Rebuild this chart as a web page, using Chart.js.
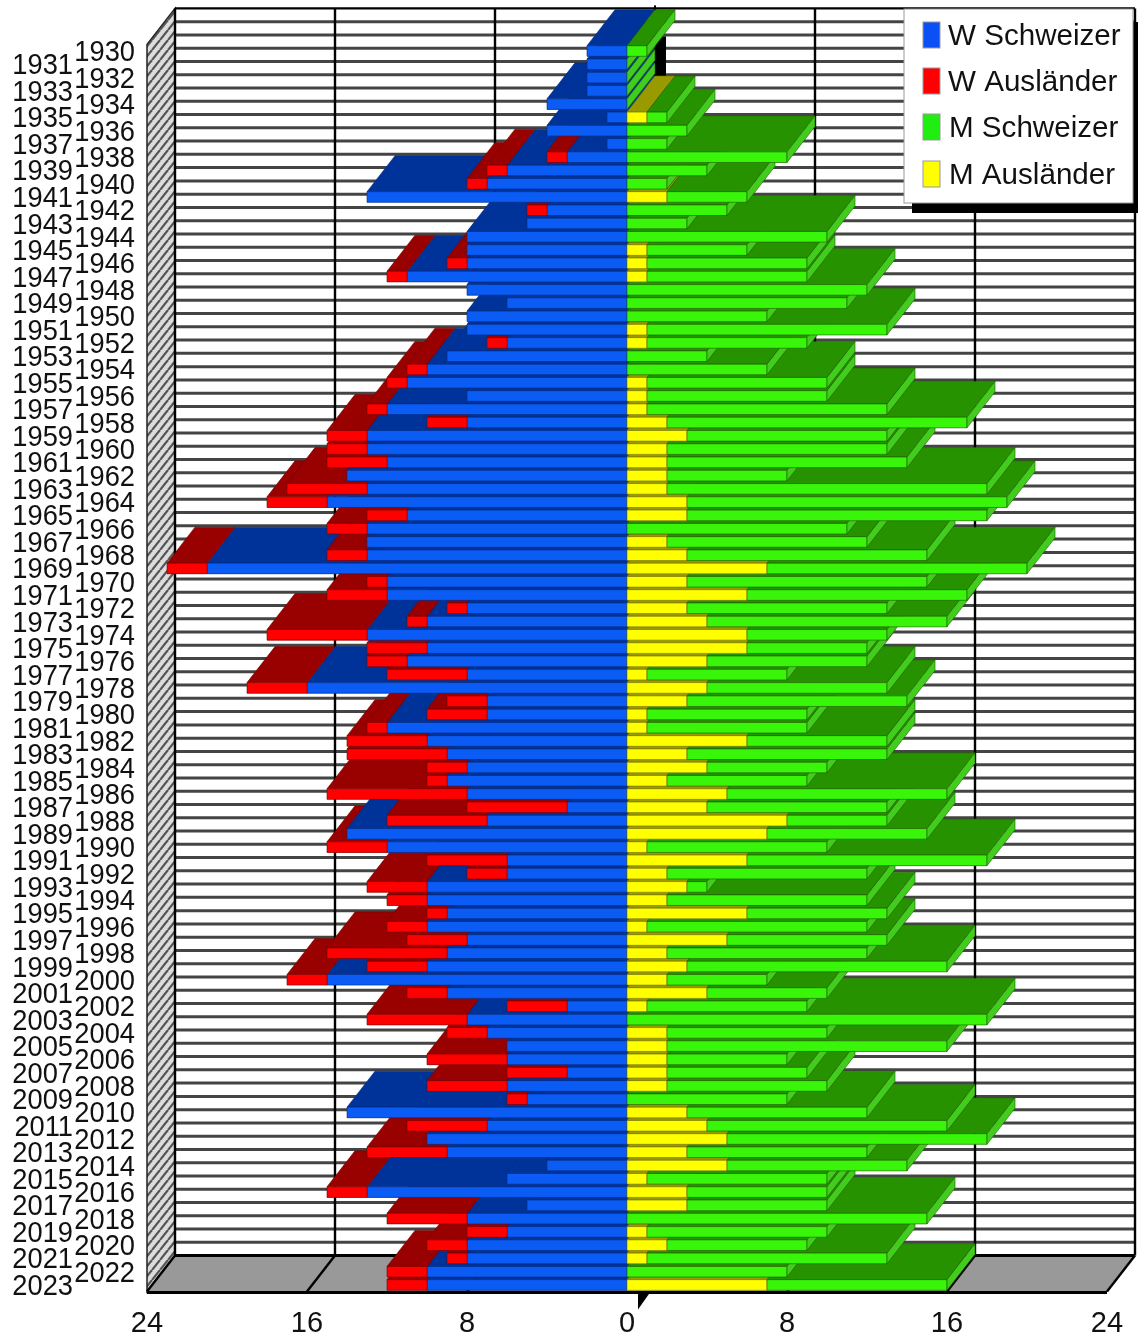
<!DOCTYPE html>
<html>
<head>
<meta charset="utf-8">
<title>Bevölkerungspyramide</title>
<script src="https://cdn.jsdelivr.net/npm/chart.js@4/dist/chart.umd.min.js"></script>
<style>
  html, body { margin: 0; padding: 0; background: #fff; }
  canvas { display: block; }
</style>
</head>
<body>
<canvas id="pyramid" width="1139" height="1338"></canvas>
<script>
const years = [];
for (let y = 1930; y <= 2023; y++) years.push(String(y));

const wSchweizer = [
  2,2,2,2,4,1,4,1,3,6,
  7,13,4,5,8,8,8,11,8,6,
  8,8,6,9,10,11,8,12,8,13,
  13,12,14,13,15,11,13,13,13,21,
  12,12,8,10,13,10,11,8,16,7,
  7,12,10,9,8,9,8,3,7,14,
  12,6,6,10,10,9,10,8,9,10,
  15,9,3,8,7,6,6,3,6,5,
  14,7,10,9,4,6,13,5,8,6,
  8,8,10,10
];
const wAuslaender = [
  0,0,0,0,0,0,0,0,1,1,
  1,0,1,0,0,0,1,1,0,0,
  0,0,1,0,1,1,0,1,2,2,
  2,3,0,4,3,2,2,0,2,2,
  1,3,1,1,5,3,2,4,3,2,
  3,1,4,5,2,1,7,5,5,0,
  3,4,2,3,2,1,2,3,6,3,
  2,2,3,5,2,0,4,3,4,1,
  0,4,0,4,0,0,2,0,4,2,
  2,1,2,2
];
const mAuslaender = [
  0,0,0,0,0,1,0,0,0,0,
  0,2,0,0,0,1,1,1,0,0,
  0,1,1,0,0,1,1,1,2,3,
  2,2,2,2,3,3,0,2,3,7,
  3,6,3,4,6,6,4,1,4,3,
  1,1,6,3,4,2,5,4,8,7,
  1,6,2,3,2,6,1,5,2,3,
  2,4,1,0,2,2,2,2,2,0,
  3,4,5,3,5,1,3,3,0,1,
  2,1,0,7
];
const mSchweizer = [
  1,0,0,0,0,1,3,2,8,4,
  2,4,5,3,10,5,8,8,12,11,
  7,12,8,4,7,9,9,12,15,10,
  11,12,6,16,16,15,11,10,12,13,
  12,11,10,12,7,6,8,7,9,11,
  8,8,7,10,6,7,11,9,5,8,
  9,12,10,1,10,7,11,8,10,13,
  5,6,8,18,8,14,6,7,8,8,
  9,12,13,9,9,9,7,7,15,9,
  7,12,8,9
];

const FONT = '"Liberation Sans", Arial, sans-serif';
const DEPTH_X = 28;
const DEPTH_Y = -36;

// front, top, edge
const colBlue = ['#0a5cf5', '#003399', '#002a80'];
const colRed = ['#ff0000', '#990000', '#770000'];
const colGreen = ['#38f50a', '#279200', '#1c5c00'];
const colYellow = ['#ffff00', '#999900', '#777700'];
const greenSide = '#42cc1e';

function poly(ctx, pts, fill, stroke, lw) {
  ctx.beginPath();
  pts.forEach((p, i) => i ? ctx.lineTo(p[0], p[1]) : ctx.moveTo(p[0], p[1]));
  ctx.closePath();
  if (fill) { ctx.fillStyle = fill; ctx.fill(); }
  if (stroke) { ctx.strokeStyle = stroke; ctx.lineWidth = lw || 1; ctx.stroke(); }
}

function hatch(ctx) {
  const c = document.createElement('canvas');
  c.width = 8; c.height = 10;
  const g = c.getContext('2d');
  g.fillStyle = '#dcdcdc';
  g.fillRect(0, 0, 8, 10);
  g.strokeStyle = '#555';
  g.lineWidth = 2.2;
  [[-8, 10], [0, 10], [8, 10]].forEach(o => {
    g.beginPath();
    g.moveTo(o[0], o[1]);
    g.lineTo(o[0] + 8, o[1] - 10);
    g.stroke();
  });
  return ctx.createPattern(c, 'repeat');
}

// Back wall, side wall, floor and the black centre post
const wallsPlugin = {
  id: 'walls',
  beforeDatasetsDraw(chart) {
    const ctx = chart.ctx, xs = chart.scales.x, ys = chart.scales.y, a = chart.chartArea;
    const band = (a.bottom - a.top) / years.length;
    const left = a.left, right = a.right;
    const backTop = a.top + DEPTH_Y, backBottom = a.bottom + DEPTH_Y;
    ctx.save();

    // side wall
    poly(ctx, [[left, a.top], [left + DEPTH_X, backTop], [left + DEPTH_X, backBottom], [left, a.bottom]], hatch(ctx), '#222', 1.5);

    // horizontal lines on the back wall, one per year
    ctx.strokeStyle = '#444';
    ctx.lineWidth = 3;
    for (let i = 1; i < years.length; i++) {
      const y = ys.getPixelForValue(i) - band / 2 + DEPTH_Y;
      ctx.beginPath();
      ctx.moveTo(left + DEPTH_X, y);
      ctx.lineTo(right + DEPTH_X, y);
      ctx.stroke();
    }

    // vertical lines on the back wall
    ctx.strokeStyle = '#000';
    ctx.lineWidth = 2.4;
    [-24, -16, -8, 8, 16, 24].forEach(v => {
      const x = xs.getPixelForValue(v) + DEPTH_X;
      ctx.beginPath();
      ctx.moveTo(x, backTop);
      ctx.lineTo(x, backBottom);
      ctx.stroke();
    });
    ctx.beginPath();
    ctx.moveTo(left + DEPTH_X, backTop);
    ctx.lineTo(right + DEPTH_X, backTop);
    ctx.stroke();

    // floor
    poly(ctx, [[left, a.bottom], [left + DEPTH_X, backBottom], [right + DEPTH_X, backBottom], [right, a.bottom]], '#999');
    ctx.lineWidth = 2.4;
    [-24, -16, -8, 8, 16, 24].forEach(v => {
      const x = xs.getPixelForValue(v);
      ctx.beginPath();
      ctx.moveTo(x, a.bottom);
      ctx.lineTo(x + DEPTH_X, backBottom);
      ctx.stroke();
    });
    ctx.lineWidth = 3;
    ctx.beginPath();
    ctx.moveTo(left + DEPTH_X, backBottom);
    ctx.lineTo(right + DEPTH_X, backBottom);
    ctx.moveTo(left, a.bottom + 1);
    ctx.lineTo(right, a.bottom + 1);
    ctx.stroke();

    // centre post
    const x0 = xs.getPixelForValue(0);
    ctx.fillStyle = '#000';
    ctx.fillRect(x0 + DEPTH_X - 1, backTop - 3, 2, 6);
    ctx.fillRect(x0 + DEPTH_X - 1, a.top - 8, 12, backBottom - a.top + 8);
    poly(ctx, [[x0 + 11, a.bottom + 1], [x0 + 23, a.bottom + 1], [x0 + 11, a.bottom + 18]], '#000');
    ctx.restore();
  }
};

// Turns each bar into a 3d block. Rows go bottom to top so that upper rows cover the lower tops.
const blocksPlugin = {
  id: 'blocks',
  afterDatasetsDraw(chart) {
    const ctx = chart.ctx, xs = chart.scales.x;
    const metas = chart.data.datasets.map((d, i) => chart.getDatasetMeta(i));
    const cols = [colBlue, colRed, colYellow, colGreen];
    ctx.save();
    for (let r = years.length - 1; r >= 0; r--) {
      metas.forEach((m, k) => {
        const b = m.data[r];
        const x1 = Math.min(b.x, b.base), x2 = Math.max(b.x, b.base);
        if (x2 - x1 < 0.5) return;
        const top = b.y - b.height / 2;
        poly(ctx, [[x1, top], [x1 + DEPTH_X, top + DEPTH_Y], [x2 + DEPTH_X, top + DEPTH_Y], [x2, top]], cols[k][1], cols[k][2], 0.6);
      });
      metas.forEach((m, k) => {
        const b = m.data[r];
        const x1 = Math.min(b.x, b.base), x2 = Math.max(b.x, b.base);
        if (x2 - x1 < 0.5) return;
        const top = b.y - b.height / 2, bot = b.y + b.height / 2;
        poly(ctx, [[x1, top], [x2, top], [x2, bot], [x1, bot]], cols[k][0], cols[k][2], 0.6);
      });
      // end face of the men's side, also there when the row is empty
      const e = metas[3].data[r];
      const ex = xs.getPixelForValue(mAuslaender[r] + mSchweizer[r]);
      const top = e.y - e.height / 2, bot = e.y + e.height / 2;
      poly(ctx, [[ex, top], [ex + DEPTH_X, top + DEPTH_Y], [ex + DEPTH_X, bot + DEPTH_Y], [ex, bot]], greenSide, colGreen[2], 0.6);
    }
    ctx.restore();
  }
};

const legendRows = [
  { label: 'W Schweizer', color: '#0a50f5', y: 35, tx: 948 },
  { label: 'W Ausländer', color: '#ff0000', y: 81, tx: 948 },
  { label: 'M Schweizer', color: '#1fee10', y: 127, tx: 949 },
  { label: 'M Ausländer', color: '#ffff00', y: 174, tx: 949 }
];

// Year labels in two staggered columns, plus the boxed legend
const labelsPlugin = {
  id: 'labels',
  afterDraw(chart) {
    const ctx = chart.ctx, ys = chart.scales.y;
    ctx.save();
    ctx.fillStyle = '#111';
    ctx.font = '29px ' + FONT;
    ctx.textAlign = 'right';
    ctx.textBaseline = 'middle';
    years.forEach((y, i) => {
      ctx.save();
      ctx.translate(i % 2 ? 73 : 135, ys.getPixelForValue(i) + 2);
      ctx.scale(0.94, 1);
      ctx.fillText(y, 0, 0);
      ctx.restore();
    });

    ctx.fillStyle = '#000';
    ctx.fillRect(912, 22, 226, 191);
    ctx.fillStyle = '#fff';
    ctx.fillRect(904, 9, 229, 194);
    ctx.strokeStyle = '#999';
    ctx.lineWidth = 1;
    ctx.strokeRect(904, 9, 229, 194);
    ctx.textAlign = 'left';
    ctx.font = '29.6px ' + FONT;
    legendRows.forEach(row => {
      ctx.fillStyle = row.color;
      ctx.fillRect(923, row.y - 13, 17, 26);
      ctx.strokeStyle = '#999';
      ctx.strokeRect(923, row.y - 13, 17, 26);
      ctx.fillStyle = '#111';
      ctx.fillText(row.label, row.tx, row.y + 2);
    });
    ctx.restore();
  }
};

new Chart(document.getElementById('pyramid'), {
  type: 'bar',
  data: {
    labels: years,
    datasets: [
      { label: 'W Schweizer', data: wSchweizer.map(v => -v), backgroundColor: colBlue[0] },
      { label: 'W Ausländer', data: wAuslaender.map(v => -v), backgroundColor: colRed[0] },
      { label: 'M Ausländer', data: mAuslaender, backgroundColor: colYellow[0] },
      { label: 'M Schweizer', data: mSchweizer, backgroundColor: colGreen[0] }
    ]
  },
  plugins: [wallsPlugin, blocksPlugin, labelsPlugin],
  options: {
    indexAxis: 'y',
    responsive: false,
    animation: false,
    devicePixelRatio: 1,
    barPercentage: 0.8,
    categoryPercentage: 1,
    layout: { padding: { left: 147, right: 32, top: 44.4, bottom: 0 } },
    plugins: { legend: { display: false }, tooltip: { enabled: false } },
    scales: {
      x: {
        type: 'linear',
        stacked: true,
        min: -24,
        max: 24,
        afterFit(s) { s.height = 46.4; },
        grid: { display: false },
        border: { display: false },
        ticks: {
          stepSize: 8,
          padding: 7,
          maxRotation: 0,
          color: '#111',
          font: { family: FONT, size: 29 },
          callback: v => Math.abs(v)
        }
      },
      y: {
        type: 'category',
        stacked: true,
        display: false,
        offset: true
      }
    }
  }
});
</script>
</body>
</html>
